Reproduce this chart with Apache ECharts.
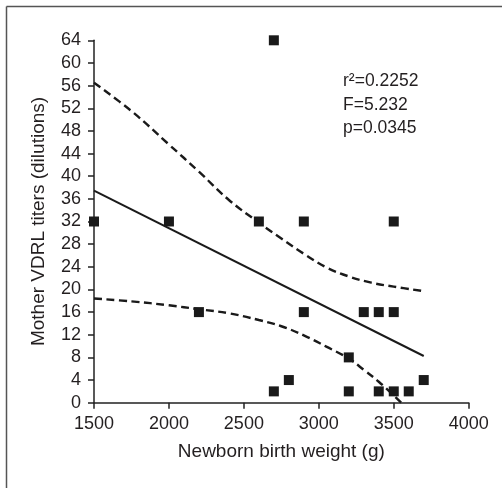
<!DOCTYPE html>
<html>
<head>
<meta charset="utf-8">
<script src="https://cdn.jsdelivr.net/npm/echarts@6/dist/echarts.min.js"></script>
<style>
html,body{margin:0;padding:0;background:#fff;}
#c{width:502px;height:488px;}
</style>
</head>
<body>
<div id="c"></div>
<script>
// Data
var pointsX = [1500, 2000, 2200, 2600, 2700, 2700, 2800, 2900, 2900, 3200, 3200, 3300, 3400, 3400, 3500, 3500, 3500, 3600, 3700];
var pointsY = [32, 32, 16, 32, 64, 2, 4, 32, 16, 8, 2, 16, 16, 2, 32, 16, 2, 2, 4];
var fitX = [1500, 3700];
var fitY = [37.45, 8.25];
var upperX = [1500, 1750, 2000, 2200, 2400, 2600, 2750, 2900, 3050, 3200, 3350, 3500, 3700];
var upperY = [56.5, 51.5, 45.6, 40.8, 35.8, 31.8, 29.0, 26.3, 23.9, 22.3, 21.2, 20.5, 19.7];
var lowerX = [1500, 1750, 2000, 2200, 2400, 2600, 2750, 2900, 3050, 3200, 3300, 3400, 3550];
var lowerY = [18.4, 17.9, 17.2, 16.5, 15.8, 14.6, 13.5, 11.9, 9.9, 7.8, 5.8, 3.7, 0];
var yTicks = [0, 4, 8, 12, 16, 20, 24, 28, 32, 36, 40, 44, 48, 52, 56, 60, 64];
var xTicks = [1500, 2000, 2500, 3000, 3500, 4000];
var statsText = ['r\u00b2=0.2252', 'F=5.232', 'p=0.0345'];

function zip(a, b) { return a.map(function (v, i) { return [v, b[i]]; }); }

var txt = '#231f20';
var font = 'Liberation Sans, Arial, sans-serif';
var chart = echarts.init(document.getElementById('c'), null, {renderer: 'canvas'});
chart.setOption({
  backgroundColor: '#fff',
  animation: false,
  grid: {left: 94, right: 33.3, top: 40.3, bottom: 85.3, containLabel: false},
  xAxis: {
    type: 'value', min: xTicks[0], max: xTicks[xTicks.length - 1], interval: 500,
    name: 'Newborn birth weight (g)', nameLocation: 'middle', nameGap: 40,
    nameTextStyle: {color: txt, fontSize: 19, fontFamily: font},
    axisLine: {show: true, onZero: false, lineStyle: {color: '#222', width: 1.5}},
    axisTick: {show: true, length: 6, lineStyle: {color: '#222', width: 1.5}},
    axisLabel: {color: txt, fontSize: 18, fontFamily: font, margin: 12,
      formatter: function (v) { return String(v); }},
    splitLine: {show: false}
  },
  yAxis: {
    type: 'value', min: yTicks[0], max: yTicks[yTicks.length - 1], interval: 4,
    name: 'Mother VDRL titers (dilutions)', nameLocation: 'middle', nameGap: 46,
    nameRotate: 90,
    nameTextStyle: {color: txt, fontSize: 19, fontFamily: font},
    axisLine: {show: true, onZero: false, lineStyle: {color: '#222', width: 1.5}},
    axisTick: {show: true, length: 6, lineStyle: {color: '#222', width: 1.5}},
    axisLabel: {color: txt, fontSize: 18, fontFamily: font, margin: 13},
    splitLine: {show: false}
  },
  graphic: [
    {type: 'line', shape: {x1: 6.5, y1: 6.5, x2: 502, y2: 6.5}, style: {stroke: '#555', lineWidth: 1.5}},
    {type: 'line', shape: {x1: 6.5, y1: 6.5, x2: 6.5, y2: 488}, style: {stroke: '#555', lineWidth: 1.5}},
    {type: 'text', left: 343, top: 70, style: {text: statsText.join('\n'), fill: txt, font: '17.5px ' + font, lineHeight: 23.3}}
  ],
  series: [
    {type: 'line', data: zip(upperX, upperY), smooth: 0.4, symbol: 'none', clip: false,
     lineStyle: {color: '#1a1a1a', width: 2.4, type: [8, 4.5]}, z: 2},
    {type: 'line', data: zip(lowerX, lowerY), smooth: 0.4, symbol: 'none', clip: false,
     lineStyle: {color: '#1a1a1a', width: 2.4, type: [8, 4.5]}, z: 2},
    {type: 'line', data: zip(fitX, fitY), symbol: 'none', clip: false,
     lineStyle: {color: '#1a1a1a', width: 2}, z: 2},
    {type: 'scatter', data: zip(pointsX, pointsY), symbol: 'rect', symbolSize: 10,
     itemStyle: {color: '#1a1a1a', opacity: 1}, clip: false, z: 3}
  ]
});
</script>
</body>
</html>
